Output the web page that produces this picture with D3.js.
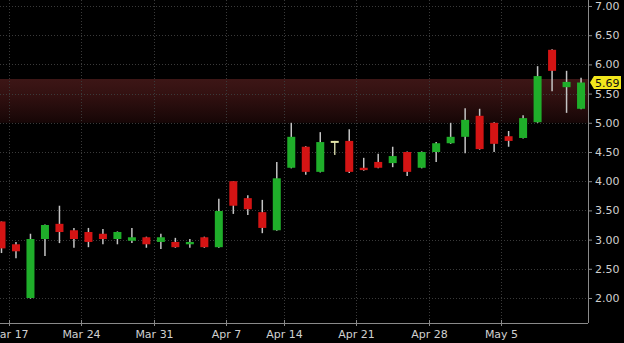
<!DOCTYPE html>
<html>
<head>
<meta charset="utf-8">
<script src="https://cdn.jsdelivr.net/npm/d3@7"></script>
<style>
  html, body { margin: 0; padding: 0; background: #000; }
  svg { display: block; }
</style>
</head>
<body>
<svg id="chart" width="624" height="343"></svg>
<script>
// daily candles
const dates = [
  "Mar 14",
  "Mar 17", "Mar 18", "Mar 19", "Mar 20", "Mar 21",
  "Mar 24", "Mar 25", "Mar 26", "Mar 27", "Mar 28",
  "Mar 31", "Apr 1", "Apr 2", "Apr 3", "Apr 4",
  "Apr 7", "Apr 8", "Apr 9", "Apr 10",
  "Apr 14", "Apr 15", "Apr 16", "Apr 17", "Apr 18",
  "Apr 21", "Apr 22", "Apr 23", "Apr 24", "Apr 25",
  "Apr 28", "Apr 29", "Apr 30", "May 1", "May 2",
  "May 5", "May 6", "May 7", "May 8", "May 9", "May 12"
]
const opens = [
  3.31, 2.92, 2.00, 3.01, 3.27, 3.16, 3.13, 3.10, 3.01, 2.98, 3.04,
  2.96, 2.96, 2.92, 3.04, 2.87, 4.00, 3.71, 3.47, 3.16,
  4.23, 4.59, 4.16, 4.69, 4.69, 4.23, 4.33, 4.31, 4.50, 4.23,
  4.50, 4.65, 4.76, 5.12, 5.00, 4.77, 4.74, 5.01, 6.25, 5.61, 5.24
]
const highs = [
  3.31, 2.96, 3.10, 3.26, 3.58, 3.20, 3.20, 3.18, 3.14, 3.20, 3.05,
  3.10, 3.03, 3.01, 3.05, 3.70, 4.00, 3.76, 3.68, 4.33,
  5.00, 4.60, 4.84, 4.69, 4.89, 4.40, 4.47, 4.59, 4.51, 4.51,
  4.67, 5.00, 5.25, 5.24, 5.01, 4.86, 5.13, 5.97, 6.26, 5.89, 5.77
]
const lows = [
  2.77, 2.68, 1.99, 2.72, 2.94, 2.86, 2.87, 2.92, 2.92, 2.94, 2.86,
  2.84, 2.86, 2.86, 2.86, 2.86, 3.44, 3.42, 3.11, 3.15,
  4.22, 4.11, 4.15, 4.45, 4.14, 4.18, 4.22, 4.24, 4.09, 4.22,
  4.33, 4.64, 4.48, 4.54, 4.50, 4.59, 4.73, 5.00, 5.54, 5.17, 5.23
]
const closes = [
  2.85, 2.80, 3.01, 3.25, 3.13, 3.01, 2.96, 3.01, 3.13, 3.04, 2.92,
  3.04, 2.87, 2.96, 2.87, 3.49, 3.58, 3.52, 3.20, 4.05,
  4.76, 4.16, 4.67, 4.69, 4.16, 4.19, 4.23, 4.43, 4.16, 4.50,
  4.65, 4.76, 5.05, 4.55, 4.64, 4.69, 5.08, 5.80, 5.89, 5.70, 5.69
]
const weekTicks = ["Mar 17", "Mar 24", "Mar 31", "Apr 7", "Apr 14", "Apr 21", "Apr 28", "May 5"]
const priceTicks = [2.00, 2.50, 3.00, 3.50, 4.00, 4.50, 5.00, 5.50, 6.00, 6.50, 7.00]
const zoneRange = [5.00, 5.75]
const lastPrice = 5.69

const width = 624, height = 343
const axisX = 588, axisY = 323
const font = "DejaVu Sans, sans-serif"

const svg = d3.select("#chart")

const x = d3.scaleBand()
  .domain(dates)
  .range([-5.75, axisX + 0.3])
  .paddingInner(0)
  .paddingOuter(0)

const y = d3.scaleLinear()
  .domain([2, 7])
  .range([298, 6])

svg.append("rect")
  .attr("width", width)
  .attr("height", height)
  .attr("fill", "#000")

// resistance zone
const defs = svg.append("defs")
const grad = defs.append("linearGradient")
  .attr("id", "zone")
  .attr("x1", 0).attr("y1", 0).attr("x2", 0).attr("y2", 1)
grad.append("stop").attr("offset", "0%").attr("stop-color", "#3d1616")
grad.append("stop").attr("offset", "35%").attr("stop-color", "#331111")
grad.append("stop").attr("offset", "100%").attr("stop-color", "#160606")

defs.append("clipPath").attr("id", "plot")
  .append("rect")
  .attr("x", 0).attr("y", 0)
  .attr("width", axisX).attr("height", axisY)

const plot = svg.append("g").attr("clip-path", "url(#plot)")

plot.append("rect")
  .attr("x", 0)
  .attr("width", axisX)
  .attr("y", y(zoneRange[1]))
  .attr("height", y(zoneRange[0]) - y(zoneRange[1]))
  .attr("fill", "url(#zone)")

// grid
plot.selectAll(".hgrid")
  .data(priceTicks)
  .join("line")
  .attr("class", "hgrid")
  .attr("x1", 0).attr("x2", axisX)
  .attr("y1", d => Math.round(y(d)) + 0.5)
  .attr("y2", d => Math.round(y(d)) + 0.5)
  .attr("stroke", "#3a3a3a")
  .attr("stroke-dasharray", "1,2")

plot.selectAll(".vgrid")
  .data(weekTicks)
  .join("line")
  .attr("class", "vgrid")
  .attr("x1", d => Math.round(x(d)) + 0.5)
  .attr("x2", d => Math.round(x(d)) + 0.5)
  .attr("y1", 0).attr("y2", axisY)
  .attr("stroke", "#3a3a3a")
  .attr("stroke-dasharray", "1,2")

// candles
const candles = dates.map((d, i) => ({
  date: d, open: opens[i], high: highs[i], low: lows[i], close: closes[i]
}))
const bodyW = 8
const colorOf = d => d.close > d.open ? "#1fae2a" : d.close < d.open ? "#d41414" : "#e4e6a8"

const candle = plot.selectAll(".candle")
  .data(candles)
  .join("g")
  .attr("class", "candle")
  .attr("transform", d => `translate(${x(d.date) + x.bandwidth() / 2},0)`)

candle.append("line")
  .attr("y1", d => y(d.high))
  .attr("y2", d => y(d.low))
  .attr("stroke", d => d.close === d.open ? "#c8caa0" : "#c4c4c4")
  .attr("stroke-width", 1.5)

candle.append("rect")
  .attr("x", -bodyW / 2)
  .attr("width", bodyW)
  .attr("y", d => y(Math.max(d.open, d.close)))
  .attr("height", d => Math.max(2, Math.abs(y(d.open) - y(d.close))))
  .attr("fill", colorOf)

// right price axis
const yAxis = svg.append("g")
  .attr("transform", `translate(${axisX},0)`)
  .call(d3.axisRight(y).tickValues(priceTicks).tickFormat(d3.format(".2f")).tickSize(4).tickPadding(3))
yAxis.select(".domain").attr("stroke", "#8a8a8a").attr("d", `M0.5,0V${axisY}`)
yAxis.selectAll(".tick line").attr("stroke", "#8a8a8a")
yAxis.selectAll(".tick text")
  .attr("fill", "#d0d0d0")
  .style("font-family", font)
  .style("font-size", "11px")

// bottom date axis
const xAxis = svg.append("g")
  .attr("transform", `translate(0,${axisY})`)
  .call(d3.axisBottom(x).tickValues(weekTicks).tickSize(3).tickPadding(4))
xAxis.selectAll(".tick").attr("transform", d => `translate(${Math.round(x(d)) + 0.5},0)`)
xAxis.select(".domain").attr("stroke", "#8a8a8a").attr("d", `M0,0.5H${axisX}`)
xAxis.selectAll(".tick line").attr("stroke", "#8a8a8a").attr("y1", -3)
xAxis.selectAll(".tick text")
  .attr("fill", "#d0d0d0")
  .style("font-family", font)
  .style("font-size", "11px")

// last price marker
const lp = y(lastPrice)
svg.append("path")
  .attr("d", `M${axisX + 2},${lp} L${axisX + 6},${lp - 6.5} H${width - 3} V${lp + 6.5} H${axisX + 6} Z`)
  .attr("fill", "#f2e61c")
svg.append("text")
  .attr("x", axisX + 7)
  .attr("y", lp + 4)
  .attr("fill", "#111")
  .style("font-family", font)
  .style("font-size", "11px")
  .text(d3.format(".2f")(lastPrice))
</script>
</body>
</html>
